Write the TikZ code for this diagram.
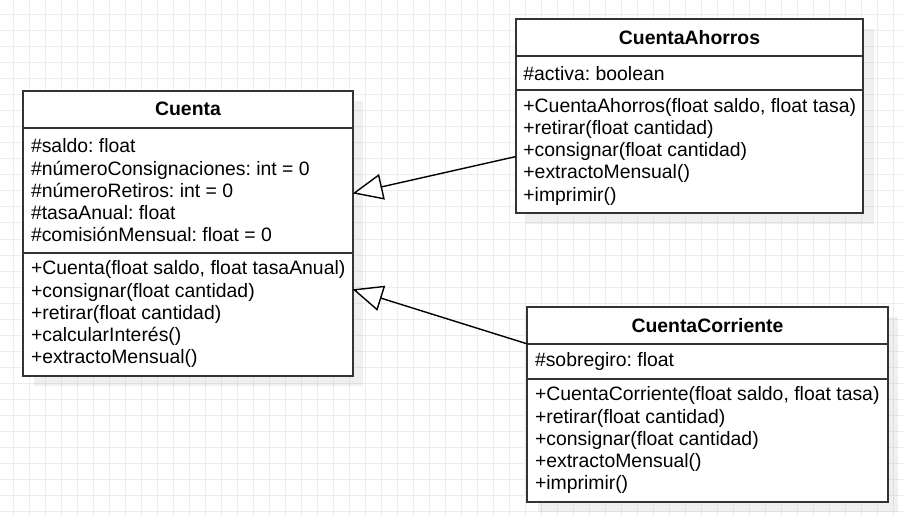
\documentclass[tikz,border=0pt]{standalone}
\usepackage{fontspec}
\setmainfont{Liberation Sans}
\usetikzlibrary{arrows.meta, shadows}
\newcommand{\umlfont}{\fontsize{19.4}{22.2}\selectfont}
\frenchspacing

\begin{document}
\begin{tikzpicture}[x=1pt, y=-1pt, font=\umlfont,
        gridline/.style={draw=black!7, line width=1pt},
        umlbox/.style={draw=black!80, line width=2pt, fill=white, outer sep=0pt, anchor=north west,
            drop shadow={shadow xshift=10.5pt, shadow yshift=-10.5pt, fill=black, opacity=0.06}},
        classname/.style={umlbox, minimum height=37.2pt, font=\umlfont\bfseries},
        members/.style={align=left, inner sep=0pt, anchor=west},
        inherits/.style={line width=1.4pt, -{Triangle[length=30pt, width=26pt, fill=white]}}]
        \useasboundingbox (0,0) rectangle (903,516);
        % grid
        \foreach \gx in {13.3,29.3,...,903}
            \draw[gridline] (\gx,0) -- (\gx,516);
        \foreach \gy in {15,31,...,516}
            \draw[gridline] (0,\gy) -- (903,\gy);
        % Cuenta
        \node[classname, minimum width=329.4pt] (cuenta) at (23.3,90.7) {Cuenta};
        \node[umlbox, minimum width=329.4pt, minimum height=124.8pt] (cuentaAttr) at (cuenta.south west) {};
        \node[umlbox, minimum width=329.4pt, minimum height=123pt] (cuentaMeth) at (cuentaAttr.south west) {};
        \node[members] (cuentaAttrText) at ([xshift=7.5pt]cuentaAttr.west)
            {\#saldo: float\\\#númeroConsignaciones: int = 0\\\#númeroRetiros: int = 0\\\#tasaAnual: float\\\#comisiónMensual: float = 0};
        \node[members] (cuentaMethText) at ([xshift=7.5pt]cuentaMeth.west)
            {+Cuenta(float saldo, float tasaAnual)\\+consignar(float cantidad)\\+retirar(float cantidad)\\+calcularInterés()\\+extractoMensual()};
        % CuentaAhorros
        \node[classname, minimum width=347.6pt] (ahorros) at (515.7,19) {CuentaAhorros};
        \node[umlbox, minimum width=347.6pt, minimum height=34pt] (ahorrosAttr) at (ahorros.south west) {};
        \node[umlbox, minimum width=347.6pt, minimum height=123pt] (ahorrosMeth) at (ahorrosAttr.south west) {};
        \node[members] (ahorrosAttrText) at ([xshift=7.5pt]ahorrosAttr.west) {\#activa: boolean};
        \node[members] (ahorrosMethText) at ([xshift=7.5pt]ahorrosMeth.west)
            {+CuentaAhorros(float saldo, float tasa)\\+retirar(float cantidad)\\+consignar(float cantidad)\\+extractoMensual()\\+imprimir()};
        % CuentaCorriente
        \node[classname, minimum width=360.4pt] (corriente) at (527.3,306.7) {CuentaCorriente};
        \node[umlbox, minimum width=360.4pt, minimum height=35pt] (corrienteAttr) at (corriente.south west) {};
        \node[umlbox, minimum width=360.4pt, minimum height=122.7pt] (corrienteMeth) at (corrienteAttr.south west) {};
        \node[members] (corrienteAttrText) at ([xshift=7.5pt]corrienteAttr.west) {\#sobregiro: float};
        \node[members] (corrienteMethText) at ([xshift=7.5pt]corrienteMeth.west)
            {+CuentaCorriente(float saldo, float tasa)\\+retirar(float cantidad)\\+consignar(float cantidad)\\+extractoMensual()\\+imprimir()};
        % generalizations
        \draw[inherits] ([yshift=-4.9pt]ahorrosMeth.west) -- ([yshift=-3.1pt]cuentaAttr.east);
        \draw[inherits] (corrienteAttr.north west) -- ([yshift=24.9pt]cuentaMeth.east);
    \end{tikzpicture}
\end{document}
